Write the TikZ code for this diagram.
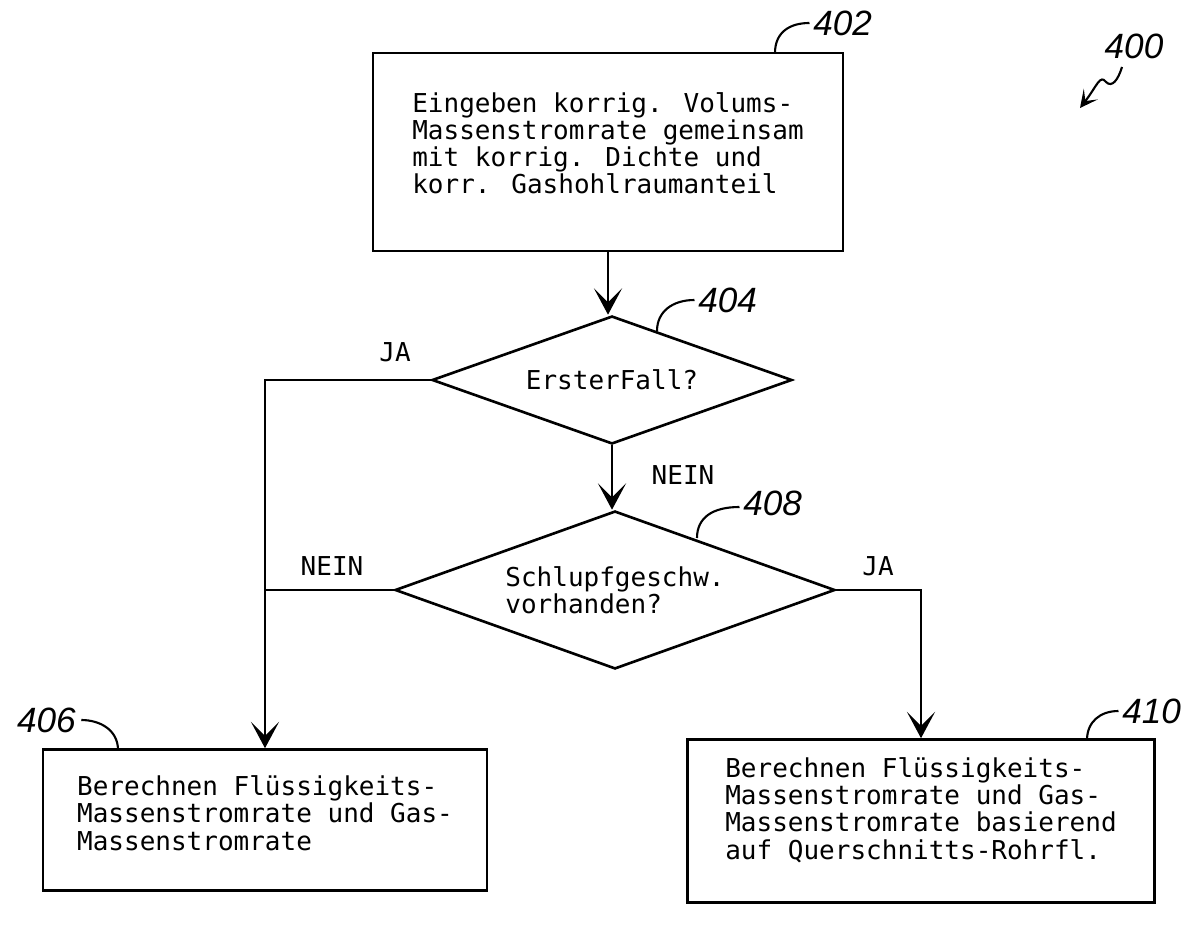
\documentclass[tikz,border=0pt]{standalone}
\usepackage{fontspec}
\newfontfamily\txtfont{DejaVu Sans Mono}
\newfontfamily\numfont{Liberation Sans}
\usetikzlibrary{shapes.geometric,arrows.meta}
\newcommand{\lowpad}[1]{\rule[-#1]{0pt}{0pt}}
\tikzset{
  txt/.style={font=\txtfont\fontsize{14.8pt}{15.4pt}\selectfont},
  fbox/.style={draw, line width=1.5pt, inner sep=0pt, align=left, txt},
  decision/.style={draw, line width=1.5pt, shape=diamond, aspect=2.8, inner sep=0pt, align=left, txt},
  flow/.style={line width=1.5pt, -{Stealth[length=15pt,width=16pt,inset=8pt]}},
  plain/.style={line width=1.5pt},
  lead/.style={line width=1.2pt},
  num/.style={font=\numfont\itshape\fontsize{20pt}{22pt}\selectfont, inner sep=0pt},
  lbl/.style={txt, inner sep=0pt}
}
\begin{document}
\begin{tikzpicture}[x=0.02cm,y=-0.02cm]
\useasboundingbox (0,0) rectangle (1197,932);
% boxes
\node[fbox, minimum width=9.4cm, minimum height=3.96cm] (b402) at (608,152)
  {Eingeben korrig. Volums-\\Massenstromrate gemeinsam\\mit korrig. Dichte und\\korr. Gashohlraumanteil\lowpad{0.36cm}};
\node[decision, minimum width=7.2cm, minimum height=2.56cm] (d404) at (612,380) {ErsterFall?};
\node[decision, minimum width=8.8cm, minimum height=3.16cm] (d408) at (615,590) {Schlupfgeschw.\\vorhanden?};
\node[fbox, minimum width=8.88cm, minimum height=2.82cm] (b406) at (265,820)
  {Berechnen Flüssigkeits-\\Massenstromrate und Gas-\\Massenstromrate\lowpad{0.28cm}};
\node[fbox, minimum width=9.34cm, minimum height=3.26cm] (b410) at (921,821)
  {Berechnen Flüssigkeits-\\Massenstromrate und Gas-\\Massenstromrate basierend\\auf Querschnitts-Rohrfl.\lowpad{0.5cm}};
% connectors
\draw[flow] (b402.south) -- (b402.south |- d404.north);
\draw[flow] (d404.west) -| (b406.north);
\draw[flow] (d404.south) -- (d404.south |- d408.north);
\draw[plain] (d408.west) -- (d408.west -| b406.north);
\draw[flow] (d408.east) -| (b410.north);
% branch labels
\node[lbl] (ja1) at (395,352) {JA};
\node[lbl] (nein1) at (683,475) {NEIN};
\node[lbl] (nein2) at (332,566) {NEIN};
\node[lbl] (ja2) at (878,566) {JA};
% reference numerals
\node[num, anchor=west] (n402) at (813,23) {402};
\node[num, anchor=west] (n404) at (698,300) {404};
\node[num, anchor=west] (n408) at (743,503) {408};
\node[num, anchor=east] (n406) at (76,720) {406};
\node[num, anchor=west] (n410) at (1122,711) {410};
\node[num] (n400) at (1134,46) {400};
\coordinate (l402) at (775,53);
\coordinate (l404) at (657,331);
\coordinate (l408) at (697,538);
\coordinate (l406) at (118,750);
\coordinate (l410) at (1087,740);
\coordinate (s400) at (1122,67);
\coordinate (t400) at (1080,108);
\draw[lead] (l402) .. controls (775,32) and (790,23) .. ([xshift=-2pt]n402.west);
\draw[lead] (l404) .. controls (657,312) and (672,300) .. ([xshift=-2pt]n404.west);
\draw[lead] (l408) .. controls (697,518) and (712,507) .. ([xshift=-2pt]n408.west |- 0,507);
\draw[lead] ([xshift=3pt]n406.east) .. controls (100,720) and (118,730) .. (l406);
\draw[lead] (l410) .. controls (1087,722) and (1100,711) .. ([xshift=-2pt]n410.west);
\draw[lead, -{Stealth[length=10pt,width=10pt,inset=5pt]}] (s400) .. controls (1118,80) and (1112,88) .. (1106,82)
  .. controls (1100,74) and (1097,86) .. (t400);
\end{tikzpicture}
\end{document}
